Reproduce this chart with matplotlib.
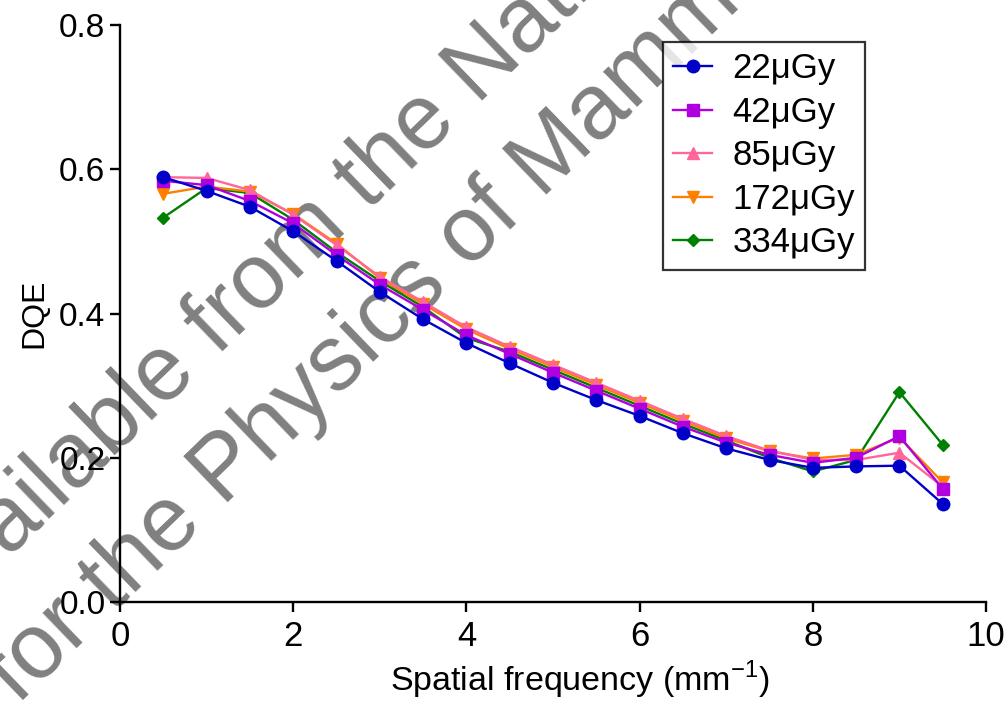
import matplotlib
matplotlib.use("Agg")
import matplotlib.pyplot as plt

plt.rcParams['font.family'] = ['Liberation Sans', 'DejaVu Sans']

# spatial frequency (mm^-1)
freq = [0.5, 1.0, 1.5, 2.0, 2.5, 3.0, 3.5, 4.0, 4.5, 5.0,
        5.5, 6.0, 6.5, 7.0, 7.5, 8.0, 8.5, 9.0, 9.5]

dqe_22 = [0.589, 0.570, 0.548, 0.514, 0.473, 0.430, 0.392, 0.359, 0.331, 0.304,
          0.280, 0.258, 0.234, 0.213, 0.197, 0.186, 0.188, 0.189, 0.136]
dqe_42 = [0.584, 0.578, 0.556, 0.525, 0.481, 0.440, 0.405, 0.370, 0.344, 0.318,
          0.293, 0.268, 0.243, 0.221, 0.204, 0.193, 0.200, 0.230, 0.157]
dqe_85 = [0.589, 0.588, 0.571, 0.537, 0.495, 0.451, 0.416, 0.381, 0.354, 0.329,
          0.304, 0.279, 0.254, 0.230, 0.210, 0.197, 0.197, 0.207, 0.160]
dqe_172 = [0.566, 0.576, 0.569, 0.538, 0.497, 0.449, 0.413, 0.378, 0.351, 0.326,
           0.301, 0.276, 0.251, 0.227, 0.209, 0.199, 0.204, 0.228, 0.166]
dqe_334 = [0.533, 0.574, 0.567, 0.530, 0.485, 0.445, 0.409, 0.366, 0.347, 0.322,
           0.297, 0.272, 0.247, 0.224, 0.200, 0.181, 0.197, 0.291, 0.218]

labels = [u"22\u03bcGy", u"42\u03bcGy", u"85\u03bcGy", u"172\u03bcGy", u"334\u03bcGy"]
series = [dqe_22, dqe_42, dqe_85, dqe_172, dqe_334]
colors = ['#0000c8', '#b000e0', '#ff6699', '#ff8000', '#008000']
markers = ['o', 's', '^', 'v', 'D']
msizes = [9, 8.5, 8.5, 8.5, 6.5]

W, H = 1008, 710
fig = plt.figure(figsize=(W / 100, H / 100), dpi=100)
ax = fig.add_axes([120 / W, 1 - 602 / H, (986 - 120) / W, (602 - 25) / H])
ax.patch.set_alpha(0)

# watermark behind the plot
wm = dict(fontsize=66, color='#808080', rotation=44, rotation_mode='anchor',
          ha='left', va='baseline', zorder=-5)
fig.text(-67 / W, 1 - 631 / H, "Available from the National Coordinating Centre", **wm)
fig.text(18 / W, 1 - 705 / H, "for the Physics of Mammography", **wm)

handles = []
n = len(series)
for i in range(n):
    h, = ax.plot(freq, series[i], color=colors[i], marker=markers[i],
                 markersize=msizes[i], linewidth=1.7, label=labels[i],
                 zorder=10 - i, clip_on=False)
    handles.append(h)

ax.set_xlim(0, 10)
ax.set_ylim(0, 0.8)
ax.set_xticks([0, 2, 4, 6, 8, 10])
ax.set_yticks([0.0, 0.2, 0.4, 0.6, 0.8])
ax.set_yticklabels(["0.0", "0.2", "0.4", "0.6", "0.8"])

for s in ['top', 'right']:
    ax.spines[s].set_visible(False)
for s in ['left', 'bottom']:
    ax.spines[s].set_linewidth(1.7)
ax.tick_params(direction='out', length=7, width=1.7)
ax.tick_params(axis='x', labelsize=25, pad=6)
ax.tick_params(axis='y', labelsize=24, pad=3.5)

ax.set_xlabel("Spatial frequency (mm$^{\\mathregular{-1}}$)", fontsize=24.5, labelpad=4)
ax.xaxis.label.set_x((580 - 120) / (986 - 120))
ax.set_ylabel("DQE", fontsize=23, labelpad=7)

leg = ax.legend(handles=handles, loc='upper left',
                bbox_to_anchor=((663 - 120) / (986 - 120), (602 - 42) / (602 - 25)),
                fontsize=25, frameon=True, fancybox=False, edgecolor='black',
                handlelength=1.1, handletextpad=0.6, labelspacing=0.3,
                borderpad=0.3, borderaxespad=0)
leg.get_frame().set_linewidth(1.6)

fig.savefig("out.png", dpi=100)
